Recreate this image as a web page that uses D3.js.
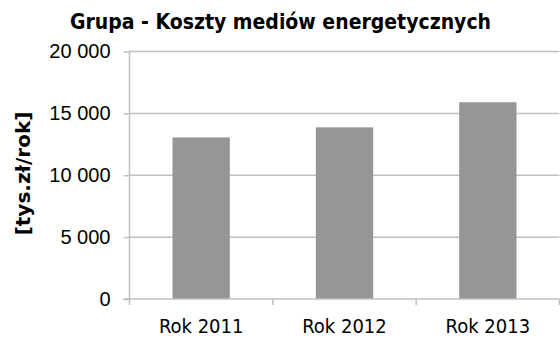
<!DOCTYPE html>
<html>
<head>
<meta charset="utf-8">
<script src="https://cdn.jsdelivr.net/npm/d3@7"></script>
<style>
  html, body { margin: 0; padding: 0; background: #fff; }
  svg { display: block; }
</style>
</head>
<body>
<svg id="chart" width="560" height="338"></svg>
<script>
// Energy media costs per year, thousand PLN
const categories = ["Rok 2011", "Rok 2012", "Rok 2013"];
const costs = [13060, 13870, 15900];
const yTicks = [0, 5000, 10000, 15000, 20000];
const chartTitle = "Grupa - Koszty mediów energetycznych";
const yAxisTitle = "[tys.zł/rok]";

const svg = d3.select("#chart");
const plot = { left: 129.5, right: 559.5, top: 51.5, bottom: 299 };

const plLocale = d3.formatLocale({ decimal: ",", thousands: " ", grouping: [3], currency: ["", " zł"] });
const fmt = plLocale.format(",d");

const x = d3.scaleBand().domain(categories)
  .range([plot.left, plot.right]).paddingInner(0.6).paddingOuter(0.3);
const xEdges = d3.scaleBand().domain(categories)
  .range([plot.left, plot.right]).padding(0);
const y = d3.scaleLinear().domain([0, 20000]).range([plot.bottom, plot.top]);

const gridColor = "#c0c0c0";
const labelFont = "'DejaVu Sans Condensed', 'DejaVu Sans', sans-serif";

// horizontal gridlines
svg.append("g").selectAll("line").data(yTicks.filter(d => d > 0)).join("line")
  .attr("x1", plot.left).attr("x2", plot.right)
  .attr("y1", d => y(d)).attr("y2", d => y(d))
  .attr("stroke", gridColor).attr("stroke-width", 1.5);

// bars
svg.append("g").selectAll("rect").data(categories).join("rect")
  .attr("x", d => x(d))
  .attr("width", x.bandwidth())
  .attr("y", (d, i) => y(costs[i]))
  .attr("height", (d, i) => y(0) - y(costs[i]))
  .attr("fill", "#969696");

// y axis
const yAxis = d3.axisLeft(y).tickValues(yTicks).tickFormat(fmt).tickSize(6).tickPadding(13);
const gy = svg.append("g").attr("transform", `translate(${plot.left},0)`).call(yAxis);
gy.select(".domain").attr("stroke", gridColor).attr("stroke-width", 1.5)
  .attr("d", `M0,${plot.top}V${plot.bottom}`);
gy.selectAll(".tick line").attr("stroke", gridColor).attr("stroke-width", 1.5);
gy.selectAll(".tick text")
  .attr("font-family", "'Liberation Sans', Arial, sans-serif")
  .attr("font-size", 20).attr("fill", "#000");

// x axis with ticks at category boundaries
const gx = svg.append("g").attr("transform", `translate(0,${plot.bottom})`);
gx.append("line").attr("x1", plot.left - 6).attr("x2", plot.right)
  .attr("stroke", gridColor).attr("stroke-width", 1.5);
const edges = categories.map(c => xEdges(c) + xEdges.bandwidth());
gx.selectAll("line.edge").data([plot.left, ...edges]).join("line").attr("class", "edge")
  .attr("x1", d => d).attr("x2", d => d).attr("y1", 0).attr("y2", 6)
  .attr("stroke", gridColor).attr("stroke-width", 1.5);
gx.selectAll("text").data(categories).join("text")
  .attr("x", d => xEdges(d) + xEdges.bandwidth() / 2)
  .attr("y", 33.5)
  .attr("text-anchor", "middle")
  .attr("font-family", labelFont)
  .attr("font-size", 20).attr("fill", "#000")
  .text(d => d);

// title
svg.append("text")
  .attr("x", 280.5).attr("y", 29)
  .attr("text-anchor", "middle")
  .attr("font-family", labelFont)
  .attr("font-weight", "bold").attr("font-size", 21).attr("fill", "#000")
  .text(chartTitle);

// y axis title
svg.append("text")
  .attr("transform", "translate(30,173.5) rotate(-90)")
  .attr("text-anchor", "middle")
  .attr("font-family", "'DejaVu Sans', sans-serif")
  .attr("font-weight", "bold").attr("font-size", 20).attr("fill", "#000")
  .text(yAxisTitle);
</script>
</body>
</html>
